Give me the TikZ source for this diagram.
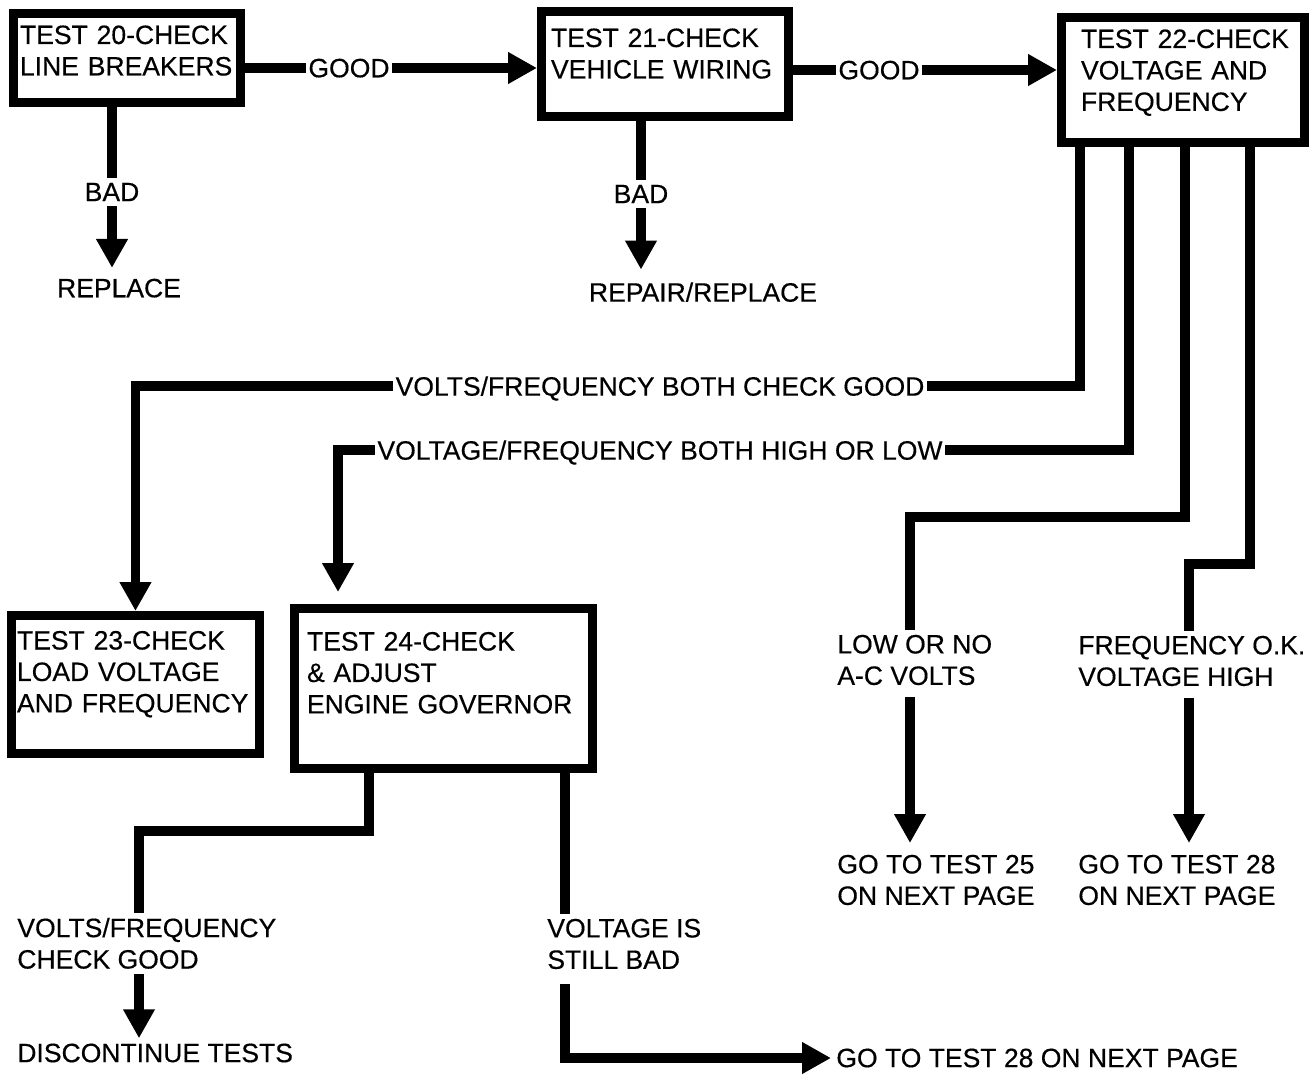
\documentclass[tikz,border=0pt]{standalone}
\usepackage{fontspec}
\setmainfont{Liberation Sans}[FakeBold=0.4]
\usetikzlibrary{arrows.meta}

\begin{document}
\begin{tikzpicture}[x=.02cm,y=-.02cm,
  test/.style={draw,line width=.18cm,outer sep=.09cm,anchor=north west,
    align=left,inner sep=0pt,
    font=\fontsize{15.1}{17.9}\selectfont},
  lead/.style={execute at begin node={\leftskip=#1\relax}},
  note/.style={align=left,inner sep=.1cm,
    font=\fontsize{15.1}{17.9}\selectfont},
  cut/.style={note,inner xsep=.05cm,text depth=0pt},
  link/.style={line width=.19cm,line join=miter},
  flow/.style={link,-{Triangle[length=.58cm,width=.6cm]}}
]
% pixel grid of the scanned sheet, y running down
\useasboundingbox (0,0) rectangle (1315,1076);

% test boxes
\node[test,lead=.13cm,text width=4.54cm,text height=.61cm,text depth=1.17cm]
  (t20) at (9,9) {TEST 20-CHECK\\LINE BREAKERS};
\node[test,lead=.19cm,text width=4.94cm,text height=.71cm,text depth=1.39cm]
  (t21) at (537,7) {TEST 21-CHECK\\VEHICLE WIRING};
\node[test,lead=.39cm,text width=4.86cm,text height=.61cm,text depth=1.89cm]
  (t22) at (1057,13) {TEST 22-CHECK\\VOLTAGE AND\\FREQUENCY};
\node[test,lead=.11cm,text width=4.96cm,text height=.68cm,text depth=2.08cm]
  (t23) at (7,611) {TEST 23-CHECK\\LOAD VOLTAGE\\AND FREQUENCY};
\node[test,lead=.25cm,text width=5.96cm,text height=.84cm,text depth=2.36cm]
  (t24) at (290,604) {TEST 24-CHECK\\\& ADJUST\\ENGINE GOVERNOR};

% texts on and at the ends of the lines
\node[cut] (good1) at (349,68) {GOOD};
\node[cut] (good2) at (879,70) {GOOD};
\node[cut] (bad1) at (112,192) {BAD};
\node[cut] (bad2) at (641,194) {BAD};
\node[cut] (replace) at (119,288) {REPLACE};
\node[cut] (repair) at (703,292) {REPAIR/REPLACE};
\node[cut] (bothgood) at (660,386) {VOLTS/FREQUENCY BOTH CHECK GOOD};
\node[cut] (bothhigh) at (660,450) {VOLTAGE/FREQUENCY BOTH HIGH OR LOW};
\node[note,anchor=north west] (lowno) at (832,629.5) {LOW OR NO\\A-C VOLTS};
\node[note,anchor=north west] (freqok) at (1073,630.5)
  {FREQUENCY O.K.\\VOLTAGE HIGH};
\node[note,anchor=north west] (goto25) at (832,849.5)
  {GO TO TEST 25\\ON NEXT PAGE};
\node[note,anchor=north west] (goto28a) at (1073,849.5)
  {GO TO TEST 28\\ON NEXT PAGE};
\node[note,anchor=north west] (checkgood) at (12,912.5)
  {VOLTS/FREQUENCY\\CHECK GOOD};
\node[note,anchor=west] (discontinue) at (12,1053) {DISCONTINUE TESTS};
\node[note,anchor=north west] (stillbad) at (542,913.5)
  {VOLTAGE IS\\STILL BAD};
\node[note,anchor=west] (goto28b) at (831,1058)
  {GO TO TEST 28 ON NEXT PAGE};

% bends of the branch lines
\coordinate (j1) at (1080,386);
\coordinate (j2) at (1129,450);
\coordinate (k2) at (338,450);
\coordinate (j3) at (1185,517);
\coordinate (k3) at (910,517);
\coordinate (j4) at (1250,564);
\coordinate (k4) at (1189,564);
\coordinate (m1) at (369,831);
\coordinate (m2) at (139,831);
\coordinate (m3) at (565,831);

\draw[link] (t20.east |- good1) -- (good1);
\draw[flow] (good1) -- (good1 -| t21.west);
\draw[link] (t21.east |- good2) -- (good2);
\draw[flow] (good2) -- (good2 -| t22.west);
\draw[link] (t20.south -| bad1) -- (bad1);
\draw[flow,shorten >=.11cm] (bad1) -- (bad1 |- replace.north);
\draw[link] (t21.south -| bad2) -- (bad2);
\draw[flow,shorten >=.15cm] (bad2) -- (bad2 |- repair.north);

\draw[link] (t22.south -| j1) -- (j1) -- (bothgood);
\draw[flow] (bothgood) -| (t23);
\draw[link] (t22.south -| j2) -- (j2) -- (bothhigh);
\draw[flow,shorten >=.24cm] (bothhigh) -- (k2) -- (k2 |- t24.north);
\draw[link] (t22.south -| j3) -- (j3) -- (k3) -- (k3 |- lowno.north);
\draw[flow,shorten <=.14cm,shorten >=.13cm]
  (lowno.south -| k3) -- (k3 |- goto25.north);
\draw[link] (t22.south -| j4) -- (j4) -- (k4) -- (k4 |- freqok.north);
\draw[flow,shorten <=.14cm,shorten >=.13cm]
  (freqok.south -| k4) -- (k4 |- goto28a.north);

\draw[link] (t24.south -| m1) -- (m1) -- (m2) -- (m2 |- checkgood.north);
\draw[flow] (checkgood.south -| m2) -- (m2 |- discontinue.north);
\draw[link] (t24.south -| m3) -- (m3 |- stillbad.north);
\draw[flow,shorten <=.2cm] (stillbad.south -| m3) |- (goto28b);
\end{tikzpicture}
\end{document}
